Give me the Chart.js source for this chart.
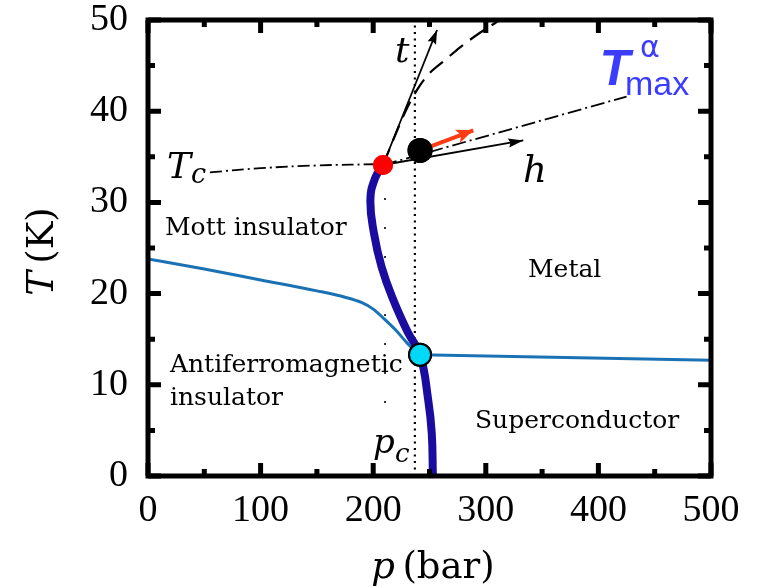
<!DOCTYPE html>
<html><head><meta charset="utf-8">
<script src="https://cdn.jsdelivr.net/npm/chart.js@4/dist/chart.umd.min.js"></script>
<style>html,body{margin:0;padding:0;background:#fff}canvas{display:block}</style>
</head><body>
<canvas id="c" width="758" height="587"></canvas>
<script>
// ---- tick labels ----
const X_TICKS = [0, 100, 200, 300, 400, 500];
const Y_TICKS = [0, 10, 20, 30, 40, 50];
// ---- Mott (first-order) line, thick navy ----
const mottP = [208.7, 201.5, 197.5, 200.7, 207.5, 217.9, 231, 241.6, 248.9, 252, 253];
const mottT = [34.1, 32.6, 30.3, 26.6, 22.9, 19.3, 15.7, 13.3, 8.3, 4.7, 0];
// ---- AF / SC boundary (thin blue) ----
const afP = [0, 50, 100, 150, 175, 190, 200, 210, 220, 230, 241.6];
const afT = [23.8, 22.7, 21.5, 20.3, 19.6, 19.0, 18.3, 17.2, 16.0, 14.6, 13.3];
const scP = [241.6, 500];
const scT = [13.3, 12.7];
// ---- Tc dash-dot line and its continuation ----
const tcP = [55, 100, 150, 208.7];
const tcT = [33.3, 33.75, 34.05, 34.2];
const crossP = [208.7, 425];
const crossT = [34.1, 41.6];
// ---- dashed T_max line ----
const dashP = [208.7, 228, 239.8, 250.4, 263.8, 277.1, 294.8, 309.9, 313];
const dashT = [34.1, 39.8, 42.5, 44.2, 45.6, 47.0, 48.6, 49.8, 50.1];
// ---- vertical guides ----
const pcP = [237, 237];
const pcT = [0, 50];
const guideP = [210.5, 210.5];
const guideT = [8, 30.5];
// ---- arrows ----
const tArrP = [208.7, 256.7];
const tArrT = [34.1, 48.9];
const hArrP = [208.7, 333.3];
const hArrT = [34.1, 36.8];
const rArrP = [241.6, 288.9];
const rArrT = [35.7, 37.9];
// ---- special points ----
const critP = [208.7];
const critT = [34.1];
const widomP = [241.6];
const widomT = [35.7];
const tricP = [241.6];
const tricT = [13.3];

const xy = (P, T) => P.map((p, i) => ({x: p, y: T[i]}));
const line = (P, T, color, width, dash, extra) => Object.assign({
  data: xy(P, T), showLine: true, borderColor: color, borderWidth: width,
  borderDash: dash || [], pointRadius: 0, fill: false, tension: 0
}, extra || {});
const pt = (P, T, color, r, bc, bw) => ({
  data: xy(P, T), showLine: false, pointRadius: r, pointBackgroundColor: color,
  pointBorderColor: bc || color, pointBorderWidth: bw || 0, pointHoverRadius: r
});

const datasets = [
  pt(widomP, widomT, '#000000', 12.5),
  pt(critP, critT, '#ff0000', 10),
  pt(tricP, tricT, '#00d8f8', 11, '#000000', 2),
  line(rArrP, rArrT, '#ff3c14', 4, [], {arrow: {len: 17, wid: 14, inset: 4}}),
  line(tArrP, tArrT, '#000000', 1.8, [], {arrow: {len: 14, wid: 9, inset: 2}}),
  line(hArrP, hArrT, '#000000', 1.8, [], {arrow: {len: 15, wid: 9, inset: 2}}),
  line(mottP, mottT, '#1b0ca0', 8, [], {tension: 0.45}),
  line(scP, scT, '#1a72b5', 3),
  line(afP, afT, '#1a72b5', 3, [], {cubicInterpolationMode: 'monotone'}),
  line(tcP, tcT, '#000000', 1.8, [12, 4, 2, 4], {tension: 0.4}),
  line(crossP, crossT, '#000000', 1.8, [14, 4, 2, 4]),
  line(dashP, dashT, '#000000', 2.2, [17, 9], {tension: 0.35}),
  line(pcP, pcT, '#000000', 2.2, [2, 4.5]),
  line(guideP, guideT, '#000000', 1.6, [2, 27])
];

const SERIF = '"DejaVu Serif", serif';

const deco = {
  id: 'deco',
  afterDatasetsDraw(chart) {
    const ctx = chart.ctx;
    chart.data.datasets.forEach((ds, i) => {
      if (!ds.arrow) return;
      const pts = chart.getDatasetMeta(i).data;
      const a = pts[pts.length - 2], b = pts[pts.length - 1];
      const ang = Math.atan2(b.y - a.y, b.x - a.x);
      const {len, wid, inset} = ds.arrow;
      ctx.save();
      ctx.translate(b.x, b.y);
      ctx.rotate(ang);
      ctx.fillStyle = ds.borderColor;
      ctx.beginPath();
      ctx.moveTo(0, 0);
      ctx.lineTo(-len, -wid / 2);
      ctx.lineTo(-len + inset, 0);
      ctx.lineTo(-len, wid / 2);
      ctx.closePath();
      ctx.fill();
      ctx.restore();
    });
    // points on top again
    [0, 1, 2].forEach(i => chart.getDatasetMeta(i).data.forEach(e => e.draw(ctx)));
  },
  afterDraw(chart) {
    const ctx = chart.ctx;
    const xs = chart.scales.x, ys = chart.scales.y;
    const a = chart.chartArea;
    const X = v => xs.getPixelForValue(v), Y = v => ys.getPixelForValue(v);
    ctx.save();
    // frame
    ctx.strokeStyle = '#000';
    ctx.lineWidth = 5;
    ctx.strokeRect(a.left, a.top, a.right - a.left, a.bottom - a.top);
    // inward ticks on all four sides
    ctx.lineWidth = 5;
    ctx.beginPath();
    for (let v = 0; v <= 500; v += 50) {
      const L = (v % 100 === 0) ? 13 : 7;
      const x = X(v);
      ctx.moveTo(x, a.bottom); ctx.lineTo(x, a.bottom - L);
      ctx.moveTo(x, a.top); ctx.lineTo(x, a.top + L);
    }
    for (let v = 0; v <= 50; v += 5) {
      const L = (v % 10 === 0) ? 13 : 7;
      const y = Y(v);
      ctx.moveTo(a.left, y); ctx.lineTo(a.left + L, y);
      ctx.moveTo(a.right, y); ctx.lineTo(a.right - L, y);
    }
    ctx.stroke();

    const txt = (s, x, y, font, color) => {
      ctx.font = font; ctx.fillStyle = color || '#000';
      ctx.textAlign = 'left'; ctx.textBaseline = 'alphabetic';
      ctx.fillText(s, x, y);
      return ctx.measureText(s).width;
    };
    const f = '25px ' + SERIF;
    txt('Mott insulator', X(15.1), Y(26.43), f);
    txt('Antiferromagnetic', X(19.5), Y(11.4), f);
    txt('insulator', X(19.5), Y(7.79), f);
    txt('Metal', X(337.5), Y(21.85), f);
    txt('Superconductor', X(290.4), Y(5.26), f);
    const fi = 'italic 36px ' + SERIF;
    txt('t', X(219.4), Y(45.39), fi);
    txt('h', X(333.0), Y(32.24), 'italic 37px ' + SERIF);
    txt('T', X(16.9), Y(32.68), fi);
    txt('c', X(38.2), Y(32.13), 'italic 27px ' + SERIF);
    txt('p', X(199.8), Y(2.52), 'italic 34px ' + SERIF);
    txt('c', X(219.4), Y(1.54), 'italic 26px ' + SERIF);
    // T_max^alpha
    const blue = '#3c3cff';
    txt('T', X(401), Y(42.87), 'italic bold 50px "Liberation Sans", Arial, sans-serif', blue);
    txt('max', X(423.6), Y(41.78), '34px "Liberation Sans", Arial, sans-serif', blue);
    txt('\u03b1', X(436.9), Y(45.94), '30px "DejaVu Sans", sans-serif', blue);

    // axis titles
    const tf = 37;
    ctx.font = 'italic ' + tf + 'px ' + SERIF;
    const wp = ctx.measureText('p').width;
    ctx.font = tf + 'px ' + SERIF;
    const wr = ctx.measureText('\u2009(bar)').width;
    const cx = 433, by = 578;
    let sx = cx - (wp + wr) / 2;
    txt('p', sx, by, 'italic ' + tf + 'px ' + SERIF);
    txt('\u2009(bar)', sx + wp, by, tf + 'px ' + SERIF);

    ctx.save();
    ctx.translate(53, 251.5);
    ctx.rotate(-Math.PI / 2);
    ctx.font = 'italic ' + tf + 'px ' + SERIF;
    const wT = ctx.measureText('T').width;
    ctx.font = tf + 'px ' + SERIF;
    const wK = ctx.measureText('\u2009(K)').width;
    const s0 = -(wT + wK) / 2;
    txt('T', s0, 0, 'italic ' + tf + 'px ' + SERIF);
    txt('\u2009(K)', s0 + wT, 0, tf + 'px ' + SERIF);
    ctx.restore();

    ctx.restore();
  }
};

new Chart(document.getElementById('c'), {
  type: 'scatter',
  data: {datasets},
  options: {
    responsive: false,
    animation: false,
    devicePixelRatio: 1,
    layout: {padding: {left: 0, right: 47, top: 20, bottom: 0}},
    plugins: {legend: {display: false}, tooltip: {enabled: false}},
    scales: {
      x: {
        type: 'linear', min: 0, max: 500,
        afterBuildTicks: s => { s.ticks = X_TICKS.map(v => ({value: v})); },
        afterFit: s => { s.height = 111; s.paddingLeft = 0; s.paddingRight = 0; },
        ticks: {color: '#000', padding: 16, maxRotation: 0, font: {family: '"Liberation Serif", serif', size: 38, lineHeight: 1}},
        grid: {display: false, drawTicks: false},
        border: {display: false}
      },
      y: {
        type: 'linear', min: 0, max: 50,
        afterBuildTicks: s => { s.ticks = Y_TICKS.map(v => ({value: v})); },
        afterFit: s => { s.width = 148; s.paddingTop = 0; s.paddingBottom = 0; },
        ticks: {color: '#000', padding: 20, font: {family: '"Liberation Serif", serif', size: 38, lineHeight: 1}},
        grid: {display: false, drawTicks: false},
        border: {display: false}
      }
    }
  },
  plugins: [deco]
});
</script>
</body></html>
